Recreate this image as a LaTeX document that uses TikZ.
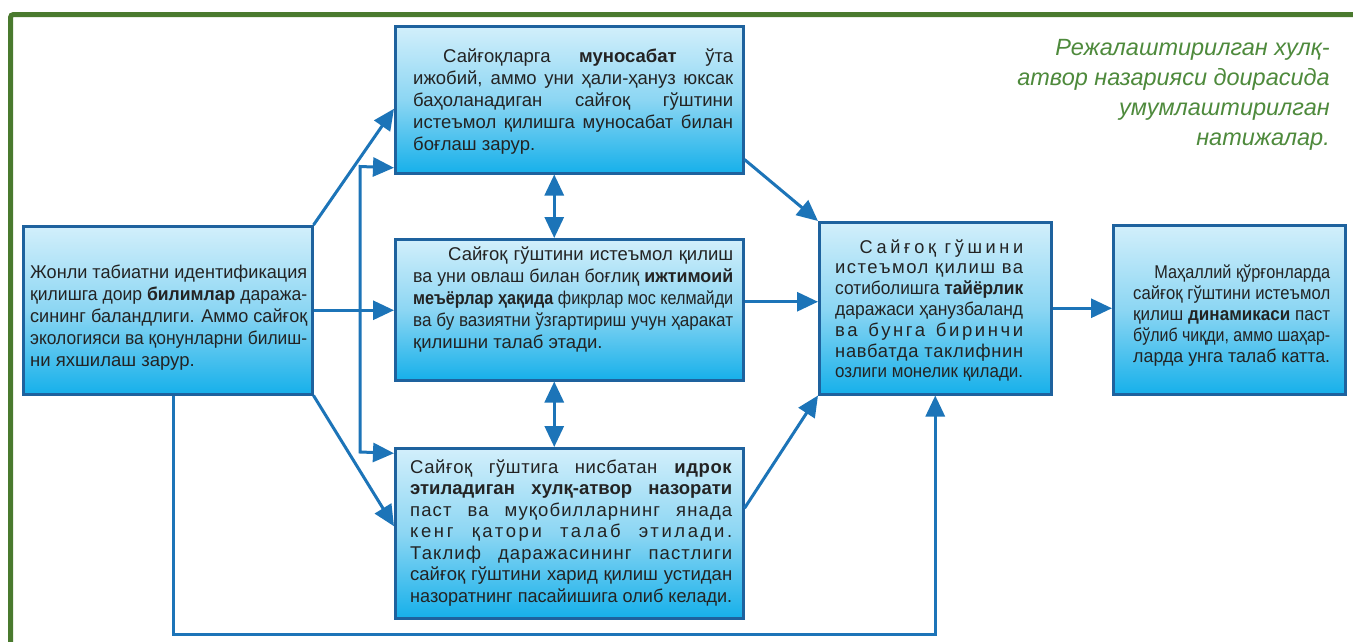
\documentclass[tikz,border=0pt]{standalone}
\usepackage{fontspec}
\usepackage{graphicx}
\setmainfont{Liberation Sans}
\usetikzlibrary{arrows.meta}
\definecolor{frameg}{HTML}{4A7A2E}
\definecolor{boxb}{HTML}{1E629E}
\definecolor{arrb}{HTML}{1C74B8}
\definecolor{ftop}{HTML}{D2EFFB}
\definecolor{fmid}{HTML}{8CD6F3}
\definecolor{fbot}{HTML}{16B0EA}
\definecolor{titleg}{HTML}{4E8A3C}
\definecolor{txt}{HTML}{232323}
\newcommand\jl[1]{\sbox0{#1}\ifdim\wd0>\linewidth\resizebox{\linewidth}{\ht0}{#1}\else\makebox[\linewidth][s]{#1}\fi}
\newcommand\jls[2]{{\addfontfeature{LetterSpace=#1}\jl{#2}}}
\newcommand\nl[1]{\sbox0{#1}\ifdim\wd0>\linewidth\resizebox{\linewidth}{\ht0}{#1}\else\mbox{#1}\fi}
\tikzset{
  bx/.style={draw=boxb, line width=2.5pt, top color=ftop, bottom color=fbot, middle color=fmid, anchor=north west, inner sep=0pt},
  txtn/.style={anchor=base west, inner sep=0pt, text=txt, font=\fontsize{18.5}{22}\selectfont},
  arr/.style={draw=arrb, line width=3pt, -{Triangle[length=21pt,width=19pt]}},
  darr/.style={draw=arrb, line width=3pt, {Triangle[length=21pt,width=19pt]}-{Triangle[length=21pt,width=19pt]}},
  ttl/.style={anchor=base east, inner sep=0pt, text=titleg, font=\fontsize{23.5}{30}\selectfont\itshape}
}
\begin{document}
\begin{tikzpicture}[x=1pt,y=-1pt]
\useasboundingbox (0,0) rectangle (1353,641);
\fill[white] (0,0) rectangle (1353,641);
% frame
\draw[frameg, line width=5pt, rounded corners=3pt] (10.5,645) -- (10.5,14.5) -- (1360,14.5);
% boxes
\node[bx, minimum width=289pt, minimum height=168pt] (L) at (22,225) {};
\node[bx, minimum width=348pt, minimum height=147pt] (T) at (394,25) {};
\node[bx, minimum width=348pt, minimum height=141pt] (M) at (394,238) {};
\node[bx, minimum width=348pt, minimum height=170pt] (B) at (394,447) {};
\node[bx, minimum width=232pt, minimum height=172pt] (R) at (818,221) {};
\node[bx, minimum width=232pt, minimum height=169pt] (F) at (1112,224) {};
% texts
\node[txtn] (Lt) at (30,278) {\parbox[t]{277pt}{\nl{Жонли табиатни идентификация}\\
\nl{қилишга доир \textbf{билимлар} даража-}\\
\nl{сининг баландлиги. Аммо сайғоқ}\\
\nl{экологияси ва қонунларни билиш-}\\
\nl{ни яхшилаш зарур.}}};
\node[txtn] (Tt) at (413,62) {\parbox[t]{320pt}{\jl{\hspace*{30pt}Сайғоқларга \textbf{муносабат} ўта}\\
\jl{ижобий, аммо уни ҳали-ҳануз юксак}\\
\jl{баҳоланадиган сайғоқ гўштини}\\
\jl{истеъмол қилишга муносабат билан}\\
\nl{боғлаш зарур.}}};
\node[txtn] (Mt) at (413,260) {\parbox[t]{320pt}{\jl{\hspace*{35pt}Сайғоқ гўштини истеъмол қилиш}\\
\jl{ва уни овлаш билан боғлиқ \textbf{ижтимоий}}\\
\jl{\textbf{меъёрлар ҳақида} фикрлар мос келмайди}\\
\jl{ва бу вазиятни ўзгартириш учун ҳаракат}\\
\nl{қилишни талаб этади.}}};
\node[txtn] (Bt) at (410,473) {\parbox[t]{322pt}{\fontsize{18.5}{21.5}\selectfont
\jls{3}{Сайғоқ гўштига нисбатан \textbf{идрок}}\\
\jl{\textbf{этиладиган хулқ-атвор назорати}}\\
\jls{6}{паст ва муқобилларнинг янада}\\
\jls{14}{кенг қатори талаб этилади.}\\
\jls{6}{Таклиф даражасининг пастлиги}\\
\jl{сайғоқ гўштини харид қилиш устидан}\\
\jl{назоратнинг пасайишига олиб келади.}}};
\node[txtn] (Rt) at (835,253) {\parbox[t]{188pt}{\fontsize{18.5}{20.8}\selectfont
\jls{20}{\hspace*{25pt}Сайғоқ гўшини}\\
\jls{8}{истеъмол қилиш ва}\\
\jl{сотиболишга \textbf{тайёрлик}}\\
\jl{даражаси ҳанузбаланд}\\
\jls{14}{ва бунга биринчи}\\
\jls{4}{навбатда таклифнин}\\
\jl{озлиги монелик қилади.}}};
\node[txtn] (Ft) at (1133,278) {\parbox[t]{197pt}{\fontsize{18.5}{21}\selectfont
\jl{\hspace*{24pt}Маҳаллий қўрғонларда}\\
\jl{сайғоқ гўштини истеъмол}\\
\jl{қилиш \textbf{динамикаси} паст}\\
\jl{бўлиб чиқди, аммо шаҳар-}\\
\nl{ларда унга талаб катта.}}};
% title
\node[ttl] (title) at (1330,55) {\parbox[t]{420pt}{\raggedleft Режалаштирилган хулқ-\\атвор назарияси доирасида\\умумлаштирилган\\натижалар.}};
% connectors
\draw[arr] (L.north east) -- ([yshift=-9pt]T.west);
\draw[arr] (L.east) -- (L.east -| M.west);
\coordinate (j1) at (360,166.5);
\coordinate (j2) at (360,452);
\draw[darr] ([yshift=-68pt]T.west) -- (j1) -- (j2) -- ([yshift=80pt]B.west);
\draw[arr] (L.south east) -- ([yshift=7pt]B.west);
\draw[arr] ([xshift=6pt]L.south) -- ++(0,239) -| (R.south);
\draw[arr] ([yshift=15pt]T.south east) -- (R.north west);
\draw[arr] ([yshift=8pt]M.east) -- ([yshift=8pt]M.east -| R.west);
\draw[arr] ([yshift=25pt]B.east) -- (R.south west);
\draw[arr] (R.east) -- (R.east -| F.west);
\draw[darr] ([xshift=-15pt]T.south) -- ([xshift=-15pt]M.north);
\draw[darr] ([xshift=-15pt]M.south) -- ([xshift=-15pt]B.north);
\end{tikzpicture}
\end{document}
